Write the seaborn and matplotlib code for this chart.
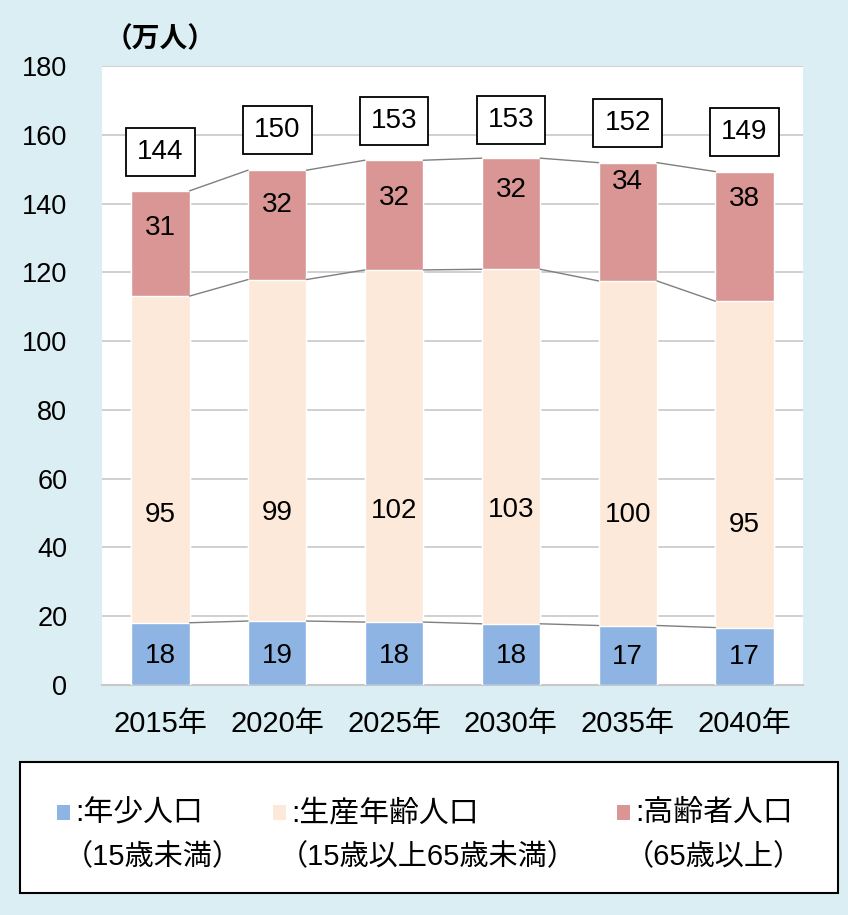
import matplotlib
matplotlib.use("Agg")
import matplotlib.pyplot as plt
import seaborn as sns
import numpy as np
import pandas as pd
from matplotlib.patches import Rectangle

sns.set_style("white")
plt.rcParams['font.family'] = ['Liberation Sans', 'Noto Sans CJK JP', 'DejaVu Sans']
plt.rcParams['text.color'] = 'black'
plt.rcParams['xtick.color'] = 'black'
plt.rcParams['ytick.color'] = 'black'
plt.rcParams['xtick.labelcolor'] = 'black'
plt.rcParams['ytick.labelcolor'] = 'black'

# ---- data ----
years = ["2015年", "2020年", "2025年", "2030年", "2035年", "2040年"]
young = [18.1, 18.6, 18.3, 17.8, 17.3, 16.7]        # 年少人口
working = [95.0, 99.3, 102.4, 103.1, 100.2, 94.9]   # 生産年齢人口
elderly = [30.6, 31.8, 31.9, 32.3, 34.4, 37.7]      # 高齢者人口
young_labels = ["18", "19", "18", "18", "17", "17"]
working_labels = ["95", "99", "102", "103", "100", "95"]
elderly_labels = ["31", "32", "32", "32", "34", "38"]
total_labels = ["144", "150", "153", "153", "152", "149"]
yticks = [0, 20, 40, 60, 80, 100, 120, 140, 160, 180]
unit_label = "（万人）"
legend_names = [":年少人口", ":生産年齢人口", ":高齢者人口"]
legend_subs = ["（15歳未満）", "（15歳以上65歳未満）", "（65歳以上）"]

# ---- layout (label positions in data units) ----
young_label_y = [8.4, 8.4, 8.4, 8.4, 8.2, 8.2]
working_label_y = [49.4, 50.0, 50.6, 50.9, 49.4, 46.5]
elderly_label_y = [132.8, 139.5, 141.6, 143.9, 146.2, 141.3]
total_label_y = [155.0, 161.3, 164.0, 164.2, 163.4, 160.8]

C_BLUE = "#8EB4E3"
C_PEACH = "#FDE9D9"
C_RED = "#D99694"
C_BG = "#DAEEF3"

df = pd.DataFrame({"year": years, "young": young, "working": working, "elderly": elderly})
df["cum_work"] = df["young"] + df["working"]
df["total"] = df["cum_work"] + df["elderly"]

W, H = 848, 915
fig = plt.figure(figsize=(W / 100, H / 100), dpi=100, facecolor=C_BG)
ax = fig.add_axes([102 / W, 1 - 685 / H, 701 / W, 619 / H])
ax.set_facecolor("white")

bw = 0.5
sns.barplot(data=df, x="year", y="total", color=C_RED, saturation=1, width=bw, ax=ax, zorder=2)
sns.barplot(data=df, x="year", y="cum_work", color=C_PEACH, saturation=1, width=bw, ax=ax, zorder=3)
sns.barplot(data=df, x="year", y="young", color=C_BLUE, saturation=1, width=bw, ax=ax, zorder=4)

# series lines
for col in ["young", "cum_work", "total"]:
    vals = df[col].values
    for i in range(len(vals) - 1):
        ax.plot([i + bw / 2, i + 1 - bw / 2], [vals[i], vals[i + 1]],
                color="#7F7F7F", lw=1.0, zorder=5)

ax.set_ylim(0, 180)
ax.set_xlim(-0.5, len(years) - 0.5)
ax.set_yticks(yticks)
ax.set_yticklabels([str(t) for t in yticks])
ax.yaxis.grid(True, color="#C8C8C8", lw=1.2, zorder=0)
ax.set_axisbelow(True)
for s in ["left", "right", "top"]:
    ax.spines[s].set_visible(False)
ax.spines["bottom"].set_color("#C8C8C8")
ax.spines["bottom"].set_linewidth(1.5)
ax.tick_params(axis="y", length=0, pad=25, labelsize=19.5)
ax.tick_params(axis="x", length=0, pad=18, labelsize=21)
ax.set_xlabel("")
ax.set_ylabel("")

fs = 20
for i in range(len(years)):
    ax.text(i, young_label_y[i], young_labels[i], ha="center", va="center", fontsize=fs, zorder=6)
    ax.text(i, working_label_y[i], working_labels[i], ha="center", va="center", fontsize=fs, zorder=6)
    ax.text(i, elderly_label_y[i], elderly_labels[i], ha="center", va="center", fontsize=fs, zorder=6)
    ax.text(i, total_label_y[i], total_labels[i], ha="center", va="center", fontsize=fs, zorder=6,
            bbox=dict(boxstyle="square,pad=0.4", fc="white", ec="black", lw=1.3))

fig.text(160 / W, 1 - 40 / H, unit_label, ha="center", va="center", fontsize=20, fontweight="bold")

# legend overlay in pixel coordinates
lax = fig.add_axes([0, 0, 1, 1])
lax.set_xlim(0, W)
lax.set_ylim(H, 0)
lax.axis("off")
lax.add_patch(Rectangle((20, 762), 818, 131, fc="white", ec="black", lw=1.5))
sq_x = [57, 273, 617]
txt_x = [75, 291, 635]
sub_x = [64, 279, 625]
colors = [C_BLUE, C_PEACH, C_RED]
for k in range(3):
    lax.add_patch(Rectangle((sq_x[k], 805), 13, 15, fc=colors[k], ec="none"))
    lax.text(txt_x[k], 813, legend_names[k], ha="left", va="center", fontsize=21.5)
    lax.text(sub_x[k], 857, legend_subs[k], ha="left", va="center", fontsize=21)

fig.savefig("out.png", dpi=100, facecolor=C_BG)
